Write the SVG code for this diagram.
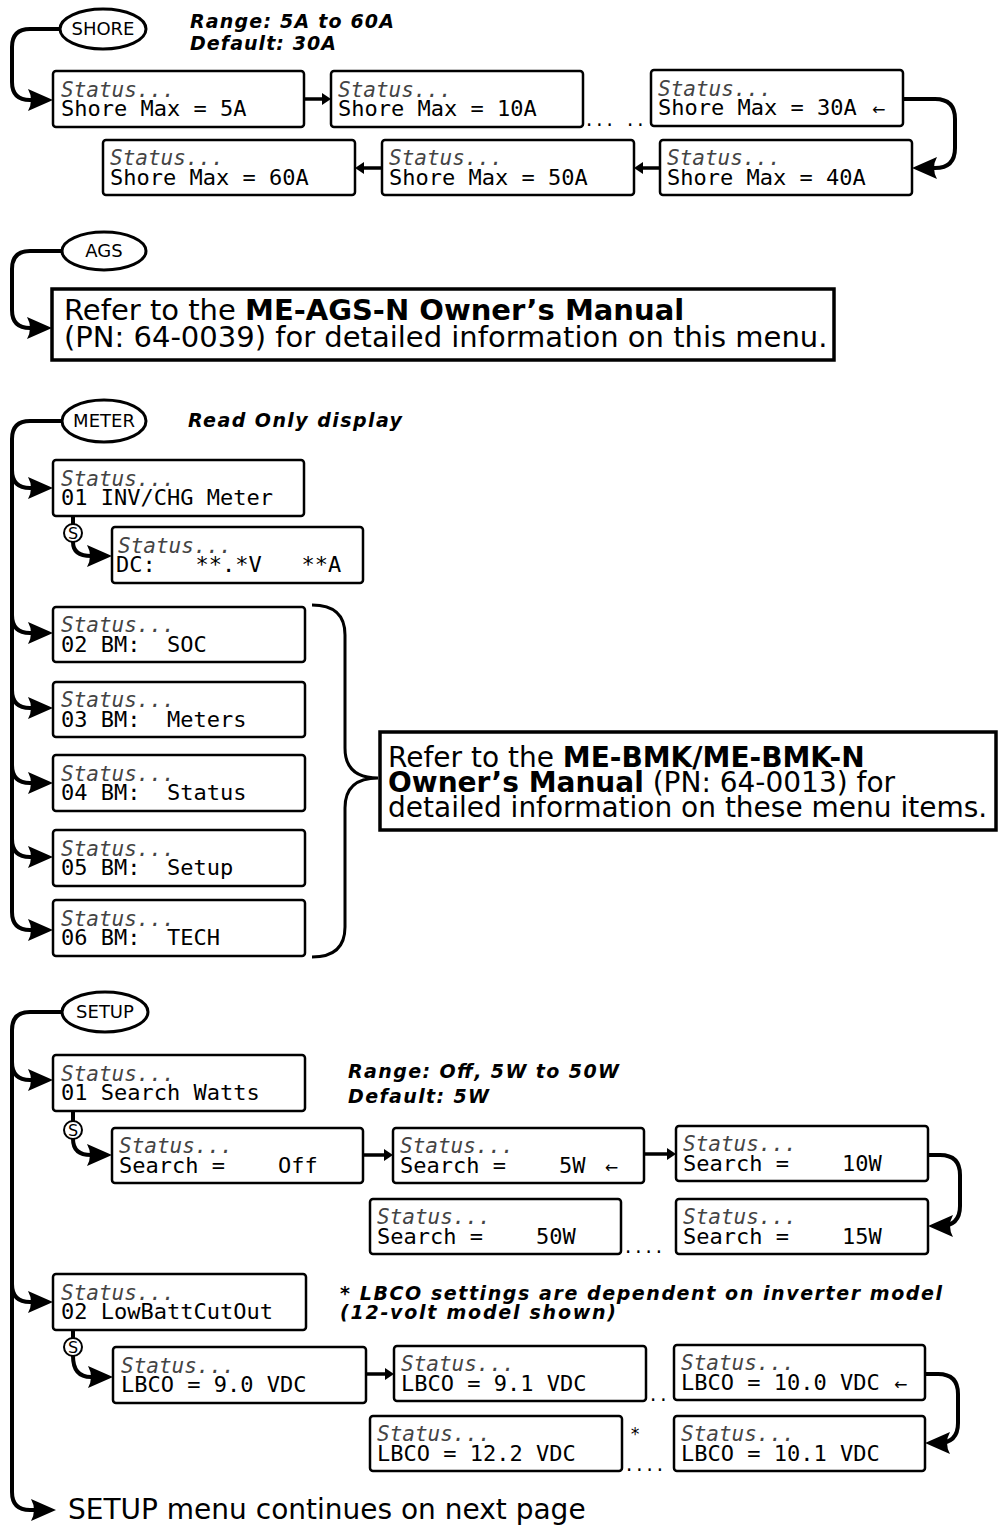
<svg xmlns="http://www.w3.org/2000/svg" width="998" height="1528" viewBox="0 0 998 1528">
<style>
text{white-space:pre}
.box{fill:#fff;stroke:#000;stroke-width:2.5}
.tbox{fill:#fff;stroke:#000;stroke-width:3.5}
.st{font-family:"DejaVu Sans Mono",monospace;font-style:italic;font-size:21px;fill:#444}
.val{font-family:"DejaVu Sans Mono",monospace;font-size:22px;fill:#000}
.dots{font-family:"DejaVu Sans Mono",monospace;font-size:17px;fill:#000}
.sm{font-family:"DejaVu Sans",sans-serif;font-size:16px}
.conn{fill:none;stroke:#000;stroke-width:4}
.link{fill:none;stroke:#000;stroke-width:3.5}
.brace{fill:none;stroke:#000;stroke-width:3}
.ell{fill:#fff;stroke:#000;stroke-width:3}
.etx{font-family:"DejaVu Sans",sans-serif;font-size:18px;text-anchor:middle}
.sc{fill:#fff;stroke:#000;stroke-width:2}
.stx{font-family:"DejaVu Sans",sans-serif;font-size:16px;text-anchor:middle}
.note{font-family:"DejaVu Sans",sans-serif;font-weight:bold;font-style:italic;font-size:19px}
.ref{font-family:"DejaVu Sans",sans-serif;font-size:29px}
.ref2{font-family:"DejaVu Sans",sans-serif;font-size:28px}
.foot{font-family:"DejaVu Sans",sans-serif;font-size:28px}
.b{font-weight:bold}
</style>
<defs>
<marker id="big" markerUnits="userSpaceOnUse" viewBox="-20 -12 30 24" markerWidth="30" markerHeight="24" refX="0" refY="0" orient="auto">
<path d="M8,0 L-17,-11 Q-11,0 -17,11 Z" fill="#000"/>
</marker>
<marker id="small" markerUnits="userSpaceOnUse" viewBox="-6 -7 12 14" markerWidth="12" markerHeight="14" refX="0" refY="0" orient="auto">
<path d="M5,0 L-4,-6 L-4,6 Z" fill="#000"/>
</marker>
</defs>

<g id="connectors">
<path class="conn" marker-end="url(#big)" d="M61,29 H30 Q12,29 12,47 V82 Q12,100 30,100 H45"/>
<path class="link" marker-end="url(#small)" d="M304,99 H326"/>
<path class="conn" marker-end="url(#big)" d="M903,99 H935 Q955,99 955,119 V148 Q955,168 935,168 H920"/>
<path class="link" marker-end="url(#small)" d="M660,168 H639"/>
<path class="link" marker-end="url(#small)" d="M382,168 H360"/>

<path class="conn" marker-end="url(#big)" d="M62,251 H30 Q12,251 12,269 V310 Q12,328 30,328 H44"/>

<path class="conn" marker-end="url(#big)" d="M62,421 H30 Q12,421 12,439 V912 Q12,930 30,930 H45"/>
<path class="conn" marker-end="url(#big)" d="M12,470 Q12,488 30,488 H45"/>
<path class="conn" marker-end="url(#big)" d="M12,615 Q12,633 30,633 H45"/>
<path class="conn" marker-end="url(#big)" d="M12,690 Q12,708 30,708 H45"/>
<path class="conn" marker-end="url(#big)" d="M12,765 Q12,783 30,783 H45"/>
<path class="conn" marker-end="url(#big)" d="M12,839 Q12,857 30,857 H45"/>
<path class="conn" d="M73,516 V524"/>
<path class="conn" marker-end="url(#big)" d="M73,542 Q73,556 91,556 H104"/>
<path class="brace" d="M312,605 Q345,605 345,635 V748 Q345,778 378,778 Q345,778 345,808 V927 Q345,957 312,957"/>

<path class="conn" marker-end="url(#big)" d="M62,1012 H30 Q12,1012 12,1030 V1492 Q12,1510 30,1510 H48"/>
<path class="conn" marker-end="url(#big)" d="M12,1062 Q12,1080 30,1080 H45"/>
<path class="conn" marker-end="url(#big)" d="M12,1284 Q12,1302 30,1302 H45"/>
<path class="conn" d="M73,1111 V1121"/>
<path class="conn" marker-end="url(#big)" d="M73,1139 Q73,1155 91,1155 H104"/>
<path class="link" marker-end="url(#small)" d="M363,1155 H388"/>
<path class="link" marker-end="url(#small)" d="M644,1154 H671"/>
<path class="conn" marker-end="url(#big)" d="M928,1155 H940 Q960,1155 960,1175 V1206 Q960,1226 940,1226 H936"/>
<path class="conn" d="M73,1330 V1338"/>
<path class="conn" marker-end="url(#big)" d="M73,1356 Q73,1377 91,1377 H105"/>
<path class="link" marker-end="url(#small)" d="M366,1374 H389"/>
<path class="conn" marker-end="url(#big)" d="M925,1374 H938 Q958,1374 958,1394 V1423 Q958,1443 938,1443 H933"/>
</g>

<g id="shore">
<ellipse class="ell" cx="103" cy="29" rx="43" ry="20"/>
<text class="etx" x="103" y="35">SHORE</text>
</g>
<g id="shore-note">
<text class="note" x="190" y="28" textLength="204" lengthAdjust="spacing">Range: 5A to 60A</text>
<text class="note" x="190" y="50" textLength="146" lengthAdjust="spacing">Default: 30A</text>
</g>
<g id="shore-5a"><rect class="box" x="53" y="71" width="251" height="56" rx="3"/><text class="st" x="61" y="97">Status...</text><text class="val" x="61" y="116">Shore Max = 5A</text></g>
<g id="shore-10a"><rect class="box" x="331" y="71" width="252" height="56" rx="3"/><text class="st" x="338" y="97">Status...</text><text class="val" x="338" y="116">Shore Max = 10A</text></g>
<text class="dots" x="584" y="126">... ..</text>
<g id="shore-30a"><rect class="box" x="651" y="70" width="252" height="56" rx="3"/><text class="st" x="658" y="96">Status...</text><text class="val" x="658" y="115">Shore Max = 30A <tspan class="sm" dx="2">←</tspan></text></g>
<g id="shore-40a"><rect class="box" x="660" y="140" width="252" height="55" rx="3"/><text class="st" x="667" y="165">Status...</text><text class="val" x="667" y="185">Shore Max = 40A</text></g>
<g id="shore-50a"><rect class="box" x="382" y="140" width="252" height="55" rx="3"/><text class="st" x="389" y="165">Status...</text><text class="val" x="389" y="185">Shore Max = 50A</text></g>
<g id="shore-60a"><rect class="box" x="103" y="140" width="252" height="55" rx="3"/><text class="st" x="110" y="165">Status...</text><text class="val" x="110" y="185">Shore Max = 60A</text></g>

<g id="ags">
<ellipse class="ell" cx="104" cy="251" rx="42" ry="19"/>
<text class="etx" x="104" y="257">AGS</text>
</g>
<g id="ags-ref">
<rect class="tbox" x="52" y="289" width="782" height="71"/>
<text class="ref" x="64" y="320">Refer to the <tspan class="b">ME-AGS-N Owner’s Manual</tspan></text>
<text class="ref" x="64" y="347">(PN: 64-0039) for detailed information on this menu.</text>
</g>

<g id="meter">
<ellipse class="ell" cx="104" cy="421" rx="42" ry="21"/>
<text class="etx" x="104" y="427">METER</text>
</g>
<text class="note" x="188" y="427" textLength="214" lengthAdjust="spacing">Read Only display</text>
<g id="meter-01"><rect class="box" x="53" y="460" width="251" height="56" rx="3"/><text class="st" x="61" y="486">Status...</text><text class="val" x="61" y="505">01 INV/CHG Meter</text></g>
<g id="s1"><circle class="sc" cx="73" cy="533" r="9"/><text class="stx" x="73" y="539">S</text></g>
<g id="meter-dc"><rect class="box" x="112" y="527" width="251" height="56" rx="3"/><text class="st" x="118" y="553">Status...</text><text class="val" x="116" y="572">DC:   **.*V   **A</text></g>
<g id="meter-02"><rect class="box" x="53" y="607" width="252" height="55" rx="3"/><text class="st" x="61" y="632">Status...</text><text class="val" x="61" y="652">02 BM:  SOC</text></g>
<g id="meter-03"><rect class="box" x="53" y="682" width="252" height="55" rx="3"/><text class="st" x="61" y="707">Status...</text><text class="val" x="61" y="727">03 BM:  Meters</text></g>
<g id="meter-04"><rect class="box" x="53" y="755" width="252" height="56" rx="3"/><text class="st" x="61" y="781">Status...</text><text class="val" x="61" y="800">04 BM:  Status</text></g>
<g id="meter-05"><rect class="box" x="53" y="830" width="252" height="56" rx="3"/><text class="st" x="61" y="856">Status...</text><text class="val" x="61" y="875">05 BM:  Setup</text></g>
<g id="meter-06"><rect class="box" x="53" y="900" width="252" height="56" rx="3"/><text class="st" x="61" y="926">Status...</text><text class="val" x="61" y="945">06 BM:  TECH</text></g>
<g id="bmk-ref">
<rect class="tbox" x="380" y="732" width="616" height="98"/>
<text class="ref2" x="388" y="767">Refer to the <tspan class="b">ME-BMK/ME-BMK-N</tspan></text>
<text class="ref2" x="388" y="792"><tspan class="b">Owner’s Manual</tspan> (PN: 64-0013) for</text>
<text class="ref2" x="388" y="817">detailed information on these menu items.</text>
</g>

<g id="setup">
<ellipse class="ell" cx="105" cy="1012" rx="43" ry="20"/>
<text class="etx" x="105" y="1018">SETUP</text>
</g>
<g id="search-note">
<text class="note" x="348" y="1078" textLength="271" lengthAdjust="spacing">Range: Off, 5W to 50W</text>
<text class="note" x="348" y="1103" textLength="141" lengthAdjust="spacing">Default: 5W</text>
</g>
<g id="setup-01"><rect class="box" x="53" y="1055" width="252" height="56" rx="3"/><text class="st" x="61" y="1081">Status...</text><text class="val" x="61" y="1100">01 Search Watts</text></g>
<g id="s2"><circle class="sc" cx="73" cy="1130" r="9"/><text class="stx" x="73" y="1136">S</text></g>
<g id="search-off"><rect class="box" x="112" y="1128" width="251" height="55" rx="3"/><text class="st" x="119" y="1153">Status...</text><text class="val" x="119" y="1173">Search =    Off</text></g>
<g id="search-5w"><rect class="box" x="393" y="1128" width="251" height="55" rx="3"/><text class="st" x="400" y="1153">Status...</text><text class="val" x="400" y="1173">Search =    5W <tspan class="sm" dx="6">←</tspan></text></g>
<g id="search-10w"><rect class="box" x="676" y="1126" width="252" height="55" rx="3"/><text class="st" x="683" y="1151">Status...</text><text class="val" x="683" y="1171">Search =    10W</text></g>
<g id="search-50w"><rect class="box" x="370" y="1199" width="251" height="55" rx="3"/><text class="st" x="377" y="1224">Status...</text><text class="val" x="377" y="1244">Search =    50W</text></g>
<text class="dots" x="623" y="1253">....</text>
<g id="search-15w"><rect class="box" x="676" y="1199" width="252" height="55" rx="3"/><text class="st" x="683" y="1224">Status...</text><text class="val" x="683" y="1244">Search =    15W</text></g>

<g id="lbco-note">
<text class="note" x="340" y="1300" textLength="602" lengthAdjust="spacing">* LBCO settings are dependent on inverter model</text>
<text class="note" x="340" y="1319" textLength="276" lengthAdjust="spacing">(12-volt model shown)</text>
</g>
<g id="setup-02"><rect class="box" x="53" y="1274" width="253" height="56" rx="3"/><text class="st" x="61" y="1300">Status...</text><text class="val" x="61" y="1319">02 LowBattCutOut</text></g>
<g id="s3"><circle class="sc" cx="73" cy="1347" r="9"/><text class="stx" x="73" y="1353">S</text></g>
<g id="lbco-90"><rect class="box" x="113" y="1347" width="253" height="56" rx="3"/><text class="st" x="121" y="1373">Status...</text><text class="val" x="121" y="1392">LBCO = 9.0 VDC</text></g>
<g id="lbco-91"><rect class="box" x="394" y="1346" width="252" height="55" rx="3"/><text class="st" x="401" y="1371">Status...</text><text class="val" x="401" y="1391">LBCO = 9.1 VDC</text></g>
<text class="dots" x="648" y="1401">..</text>
<g id="lbco-100"><rect class="box" x="674" y="1345" width="251" height="55" rx="3"/><text class="st" x="681" y="1370">Status...</text><text class="val" x="681" y="1390">LBCO = 10.0 VDC <tspan class="sm" dx="1">←</tspan></text></g>
<g id="lbco-122"><rect class="box" x="370" y="1416" width="252" height="55" rx="3"/><text class="st" x="377" y="1441">Status...</text><text class="val" x="377" y="1461">LBCO = 12.2 VDC</text></g>
<text class="dots" x="630" y="1440">*</text>
<text class="dots" x="624" y="1471">....</text>
<g id="lbco-101"><rect class="box" x="674" y="1416" width="251" height="55" rx="3"/><text class="st" x="681" y="1441">Status...</text><text class="val" x="681" y="1461">LBCO = 10.1 VDC</text></g>

<text class="foot" x="68" y="1519">SETUP menu continues on next page</text>
</svg>
